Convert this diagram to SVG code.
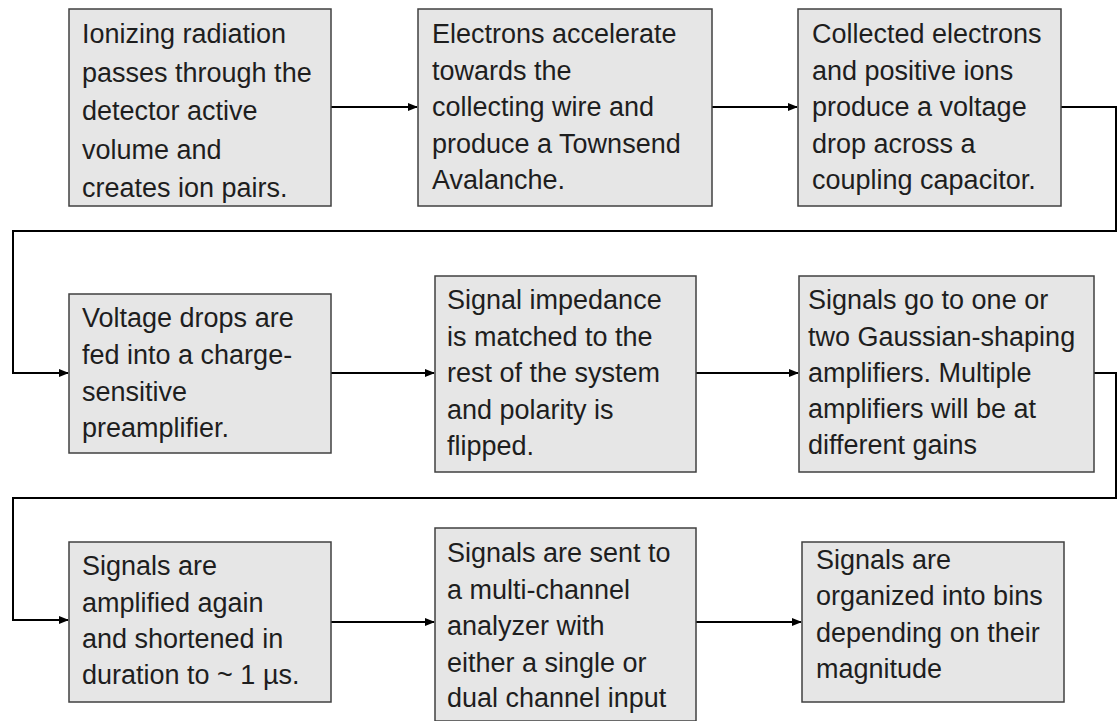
<svg xmlns="http://www.w3.org/2000/svg" width="1120" height="721" viewBox="0 0 1120 721">
<style>
.box{fill:#e6e6e6;stroke:#404040;stroke-width:1.5}
.t{font-family:"Liberation Sans",Arial,sans-serif;font-size:27px;fill:#1e1e1e}
.c{fill:none;stroke:#000;stroke-width:2}
</style>
<defs>
<marker id="ah" markerWidth="10" markerHeight="8" refX="9" refY="4" orient="auto" markerUnits="userSpaceOnUse">
<path d="M0,0 L10,4 L0,8 Z" fill="#000"/>
</marker>
</defs>
<rect width="1120" height="721" fill="#fff"/>
<g id="connectors">
<path class="c" d="M331,107 H417" marker-end="url(#ah)"/>
<path class="c" d="M712,107 H797" marker-end="url(#ah)"/>
<path class="c" d="M1061,107 H1116 V231 H13 V373 H68" marker-end="url(#ah)"/>
<path class="c" d="M331,373 H434" marker-end="url(#ah)"/>
<path class="c" d="M696,373 H798" marker-end="url(#ah)"/>
<path class="c" d="M1094,373 H1116 V498 H13 V620 H68" marker-end="url(#ah)"/>
<path class="c" d="M331,622 H434" marker-end="url(#ah)"/>
<path class="c" d="M696,622 H801" marker-end="url(#ah)"/>
</g>
<g id="n1">
<rect class="box" x="69" y="9" width="262" height="197"/>
<text class="t" x="82" y="43">Ionizing radiation</text>
<text class="t" x="82" y="81.5">passes through the</text>
<text class="t" x="82" y="120">detector active</text>
<text class="t" x="82" y="158.5">volume and</text>
<text class="t" x="82" y="197">creates ion pairs.</text>
</g>
<g id="n2">
<rect class="box" x="418" y="9" width="294" height="197"/>
<text class="t" x="432" y="43">Electrons accelerate</text>
<text class="t" x="432" y="79.5">towards the</text>
<text class="t" x="432" y="116">collecting wire and</text>
<text class="t" x="432" y="152.5">produce a Townsend</text>
<text class="t" x="432" y="189">Avalanche.</text>
</g>
<g id="n3">
<rect class="box" x="798" y="9" width="263" height="197"/>
<text class="t" x="812" y="43">Collected electrons</text>
<text class="t" x="812" y="79.5">and positive ions</text>
<text class="t" x="812" y="116">produce a voltage</text>
<text class="t" x="812" y="152.5">drop across a</text>
<text class="t" x="812" y="189">coupling capacitor.</text>
</g>
<g id="n4">
<rect class="box" x="69" y="294" width="262" height="159"/>
<text class="t" x="82" y="327">Voltage drops are</text>
<text class="t" x="82" y="364">fed into a charge-</text>
<text class="t" x="82" y="400.5">sensitive</text>
<text class="t" x="82" y="437">preamplifier.</text>
</g>
<g id="n5">
<rect class="box" x="435" y="276" width="261" height="196"/>
<text class="t" x="447" y="309">Signal impedance</text>
<text class="t" x="447" y="345.5">is matched to the</text>
<text class="t" x="447" y="382">rest of the system</text>
<text class="t" x="447" y="418.5">and polarity is</text>
<text class="t" x="447" y="455">flipped.</text>
</g>
<g id="n6">
<rect class="box" x="799" y="276" width="295" height="196"/>
<text class="t" x="808" y="309">Signals go to one or</text>
<text class="t" x="808" y="345.5">two Gaussian-shaping</text>
<text class="t" x="808" y="382">amplifiers. Multiple</text>
<text class="t" x="808" y="418">amplifiers will be at</text>
<text class="t" x="808" y="454">different gains</text>
</g>
<g id="n7">
<rect class="box" x="69" y="542" width="262" height="160"/>
<text class="t" x="82" y="575">Signals are</text>
<text class="t" x="82" y="611.5">amplified again</text>
<text class="t" x="82" y="648">and shortened in</text>
<text class="t" x="82" y="684">duration to ~ 1 µs.</text>
</g>
<g id="n8">
<rect class="box" x="435" y="528" width="261" height="193"/>
<text class="t" x="447" y="562">Signals are sent to</text>
<text class="t" x="447" y="598.5">a multi-channel</text>
<text class="t" x="447" y="635">analyzer with</text>
<text class="t" x="447" y="671.5">either a single or</text>
<text class="t" x="447" y="707">dual channel input</text>
</g>
<g id="n9">
<rect class="box" x="802" y="542" width="262" height="160"/>
<text class="t" x="816" y="568.5">Signals are</text>
<text class="t" x="816" y="605">organized into bins</text>
<text class="t" x="816" y="641.5">depending on their</text>
<text class="t" x="816" y="678">magnitude</text>
</g>
</svg>
